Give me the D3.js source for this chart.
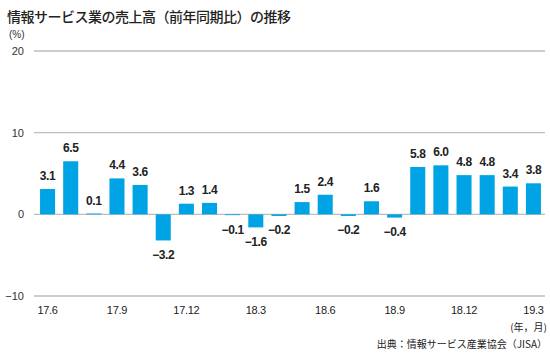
<!DOCTYPE html>
<html><head><meta charset="utf-8">
<script src="https://cdn.jsdelivr.net/npm/d3@7"></script>
<style>
body{margin:0;background:#fff;}
text{font-family:"Liberation Sans",Arial,sans-serif;}
.jp{font-family:"Noto Sans CJK JP",sans-serif;}
</style></head>
<body>
<svg id="c" width="550" height="355"></svg>
<script>
const months = ["17.6","17.7","17.8","17.9","17.10","17.11","17.12","18.1","18.2","18.3","18.4","18.5","18.6","18.7","18.8","18.9","18.10","18.11","18.12","19.1","19.2","19.3"];
const values = [3.1,6.5,0.1,4.4,3.6,-3.2,1.3,1.4,-0.1,-1.6,-0.2,1.5,2.4,-0.2,1.6,-0.4,5.8,6.0,4.8,4.8,3.4,3.8];
const tickLabels = ["17.6","17.9","17.12","18.3","18.6","18.9","18.12","19.3"];
const yTicks = [-10,0,10,20];

const svg = d3.select("#c");
const x = d3.scaleBand().domain(months).range([36,545]).paddingInner(0.35).paddingOuter(0.175);
const y = d3.scaleLinear().domain([-10,20]).range([296,51]);

svg.append("text").attr("class","jp").attr("x",7).attr("y",22)
  .attr("font-size",14).attr("font-weight",500).attr("fill","#222").attr("letter-spacing",-0.5)
  .text("情報サービス業の売上高（前年同期比）の推移");
svg.append("text").attr("x",9).attr("y",38).attr("font-size",10).attr("fill","#333").text("(%)");

const g = svg.append("g");
g.selectAll("line.grid").data(yTicks).join("line")
  .attr("x1",34).attr("x2",545).attr("y1",d=>y(d)).attr("y2",d=>y(d))
  .attr("stroke","#bdbdbd").attr("stroke-width",1.3);
g.selectAll("text.yt").data(yTicks).join("text")
  .attr("x",24).attr("y",d=>y(d)+4).attr("text-anchor","end")
  .attr("font-size",11).attr("fill","#333")
  .text(d=>d<0?"−"+Math.abs(d):d);

svg.selectAll("rect.bar").data(values).join("rect")
  .attr("x",(d,i)=>x(months[i])).attr("width",x.bandwidth())
  .attr("y",d=>y(Math.max(0,d))).attr("height",d=>Math.abs(y(d)-y(0)))
  .attr("fill","#00a4e4");

svg.selectAll("text.val").data(values).join("text")
  .attr("x",(d,i)=>x(months[i])+x.bandwidth()/2)
  .attr("y",d=>d>=0?y(d)-9:y(d)+18.5)
  .attr("text-anchor","middle").attr("font-size",12).attr("font-weight","bold")
  .attr("fill","#222").attr("letter-spacing",-0.4)
  .text(d=>d<0?"−"+Math.abs(d).toFixed(1):d.toFixed(1));

svg.selectAll("text.xt").data(tickLabels).join("text")
  .attr("x",d=>x(d)+x.bandwidth()/2).attr("y",314)
  .attr("text-anchor","middle").attr("font-size",11).attr("fill","#222").attr("letter-spacing",-0.3)
  .text(d=>d);

svg.append("text").attr("class","jp").attr("x",547).attr("y",331).attr("text-anchor","end")
  .attr("font-size",10).attr("fill","#222").text("(年，月)");
svg.append("text").attr("class","jp").attr("x",547).attr("y",348).attr("text-anchor","end")
  .attr("font-size",10).attr("fill","#222").text("出典：情報サービス産業協会（JISA）");
</script>
</body></html>
